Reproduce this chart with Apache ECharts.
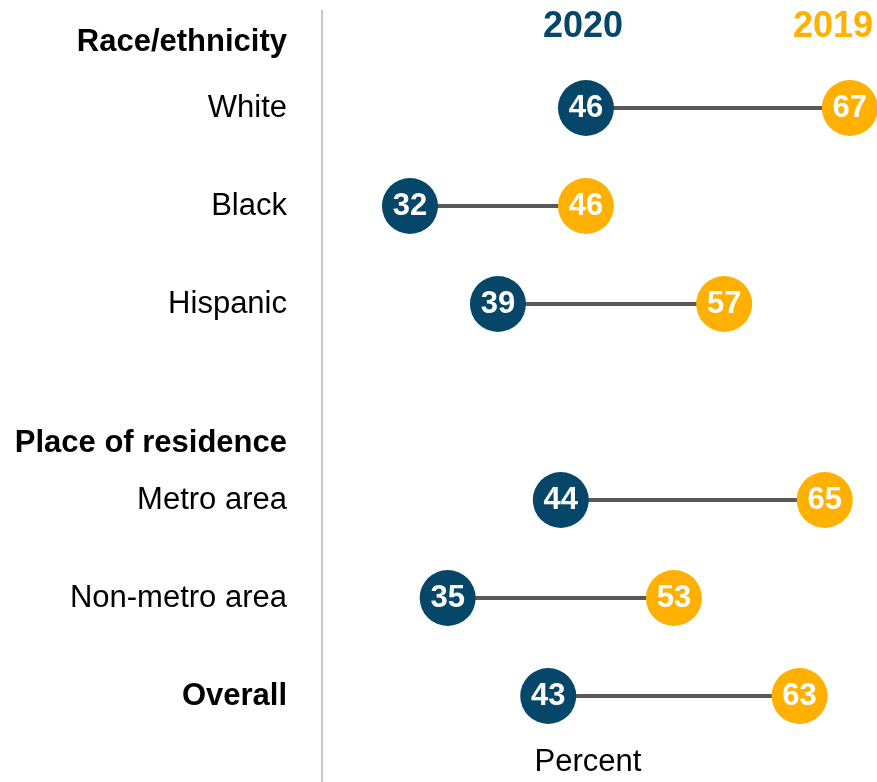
<!DOCTYPE html>
<html>
<head>
<meta charset="utf-8">
<script src="https://cdn.jsdelivr.net/npm/echarts@6/dist/echarts.min.js"></script>
<style>
  html, body { margin: 0; padding: 0; background: #fff; }
  #chart { width: 877px; height: 782px; }
</style>
</head>
<body>
<div id="chart"></div>
<script>
// rows top to bottom; the blank one is the gap before "Place of residence"
const categories = ['White', 'Black', 'Hispanic', '', 'Metro area', 'Non-metro area', 'Overall'];
const values2020 = [46, 32, 39, null, 44, 35, 43];
const values2019 = [67, 46, 57, null, 65, 53, 63];
const groupHeaders = ['Race/ethnicity', 'Place of residence'];
const seriesNames = ['2020', '2019'];

const BLUE = '#054669';
const GOLD = '#FFB000';
const SANS = '"Liberation Sans", Arial, sans-serif';

const dots = (vals) => vals
  .map((v, i) => (v == null ? null : [v, i]))
  .filter(d => d);

const segments = categories
  .map((c, i) => (values2020[i] == null ? null : [values2020[i], values2019[i], i]))
  .filter(d => d);

const chart = echarts.init(document.getElementById('chart'));

const dotLabel = {
  show: true,
  position: 'inside',
  formatter: (p) => p.value[0],
  color: '#fff',
  fontFamily: SANS,
  fontWeight: 'bold',
  fontSize: 31
};

chart.setOption({
  backgroundColor: '#fff',
  animation: false,
  grid: { left: 322, right: 2, top: 59, bottom: 37 },
  xAxis: {
    type: 'value',
    min: 25,
    max: 69,
    show: false
  },
  yAxis: {
    type: 'category',
    data: categories,
    inverse: true,
    axisLine: { show: false },
    axisTick: { show: false },
    splitLine: { show: false },
    axisLabel: {
      margin: 35,
      fontFamily: SANS,
      fontSize: 31,
      color: '#000',
      formatter: (v) => (v === 'Overall' ? '{b|' + v + '}' : v),
      rich: {
        b: { fontFamily: SANS, fontSize: 31, fontWeight: 'bold', color: '#000' }
      }
    }
  },
  graphic: [
    {
      type: 'line',
      shape: { x1: 322, y1: 10, x2: 322, y2: 782 },
      style: { stroke: '#c8c8c8', lineWidth: 2 }
    },
    {
      type: 'text', x: 287, y: 42,
      style: { text: groupHeaders[0], align: 'right', verticalAlign: 'middle',
        font: 'bold 31px ' + SANS, fill: '#000' }
    },
    {
      type: 'text', x: 287, y: 443,
      style: { text: groupHeaders[1], align: 'right', verticalAlign: 'middle',
        font: 'bold 31px ' + SANS, fill: '#000' }
    },
    {
      type: 'text', x: 583, y: 27,
      style: { text: seriesNames[0], align: 'center', verticalAlign: 'middle',
        font: 'bold 36px ' + SANS, fill: BLUE }
    },
    {
      type: 'text', x: 833, y: 27,
      style: { text: seriesNames[1], align: 'center', verticalAlign: 'middle',
        font: 'bold 36px ' + SANS, fill: GOLD }
    },
    {
      type: 'text', x: 588, y: 762,
      style: { text: 'Percent', align: 'center', verticalAlign: 'middle',
        font: '31px ' + SANS, fill: '#000' }
    }
  ],
  series: [
    {
      type: 'custom',
      data: segments,
      encode: { x: [0, 1], y: 2 },
      z: 1,
      renderItem: (params, api) => {
        const a = api.coord([api.value(0), api.value(2)]);
        const b = api.coord([api.value(1), api.value(2)]);
        return {
          type: 'line',
          shape: { x1: a[0], y1: a[1], x2: b[0], y2: b[1] },
          style: { stroke: '#595959', lineWidth: 4 }
        };
      }
    },
    {
      name: seriesNames[0],
      type: 'scatter',
      data: dots(values2020),
      symbolSize: 56,
      z: 3,
      itemStyle: { color: BLUE, opacity: 1 },
      label: dotLabel
    },
    {
      name: seriesNames[1],
      type: 'scatter',
      data: dots(values2019),
      symbolSize: 56,
      z: 3,
      itemStyle: { color: GOLD, opacity: 1 },
      label: dotLabel
    }
  ]
});
</script>
</body>
</html>
